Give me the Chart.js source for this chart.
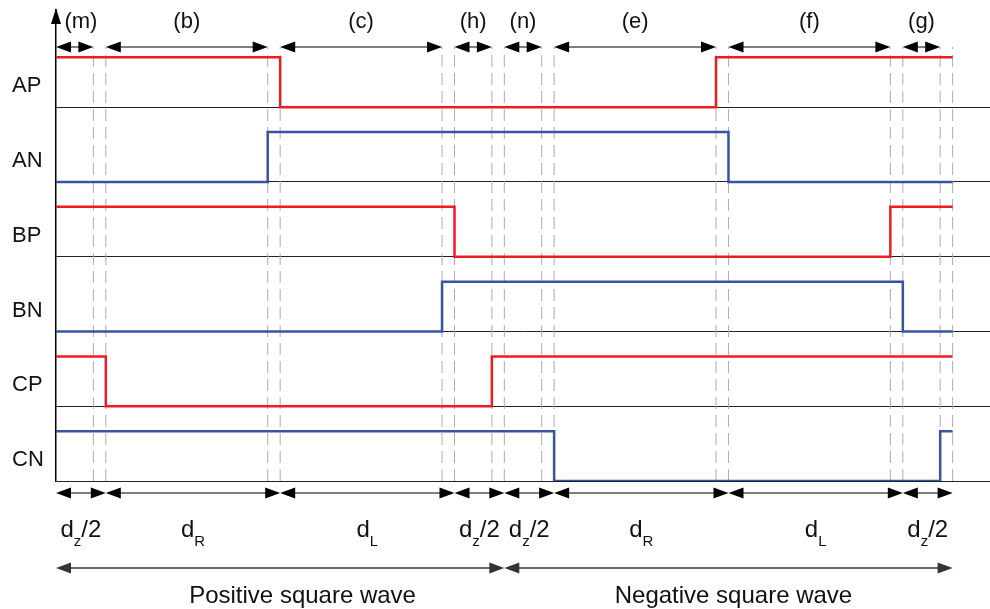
<!DOCTYPE html>
<html>
<head>
<meta charset="utf-8">
<script src="https://cdn.jsdelivr.net/npm/chart.js@4.4.0/dist/chart.umd.min.js"></script>
<style>
  html, body { margin: 0; padding: 0; background: #fff; }
  #wrap { width: 990px; height: 609px; }
</style>
</head>
<body>
<div id="wrap"><canvas id="timing" width="990" height="609"></canvas></div>
<script>
// rows, top to bottom, and the level each row sits on
const signalNames = ['AP', 'AN', 'BP', 'BN', 'CP', 'CN'];
const rowBase = [15, 12, 9, 6, 3, 0];

// switching instants (time units) and the level that starts at each one
const tAP = [0, 18, 53, 72]; const vAP = [1, 0, 1, 1];
const tAN = [0, 17, 54, 72]; const vAN = [0, 1, 0, 0];
const tBP = [0, 32, 67, 72]; const vBP = [1, 0, 1, 1];
const tBN = [0, 31, 68, 72]; const vBN = [0, 1, 0, 0];
const tCP = [0, 4, 35, 72];  const vCP = [1, 0, 1, 1];
const tCN = [0, 40, 71, 72]; const vCN = [1, 0, 1, 1];

// dashed guide lines
const guideTimes = [3, 4, 17, 18, 31, 32, 35, 36, 39, 40, 53, 54, 67, 68, 71, 72];

// interval markers above the traces
const topLabels = ['(m)', '(b)', '(c)', '(h)', '(n)', '(e)', '(f)', '(g)'];
const topFrom = [0, 4, 18, 32, 36, 40, 54, 68];
const topTo = [3, 17, 31, 35, 39, 53, 67, 71];
const topLabelAt = [2, 10.5, 24.5, 33.5, 37.5, 46.5, 60.5, 69.5];

// durations below the traces
const bottomMain = ['d', 'd', 'd', 'd', 'd', 'd', 'd', 'd'];
const bottomSub = ['z', 'R', 'L', 'z', 'z', 'R', 'L', 'z'];
const bottomTail = ['/2', '', '', '/2', '/2', '', '', '/2'];
const bottomFrom = [0, 4, 18, 32, 36, 40, 54, 68];
const bottomTo = [4, 18, 32, 36, 40, 54, 68, 72];

const waveLabels = ['Positive square wave', 'Negative square wave'];
const waveFrom = [0, 36];
const waveTo = [36, 72];
const waveLabelAt = [19.8, 54.4];

const RED = '#ed1c24';
const BLUE = '#3953a4';
const FONT = "'Liberation Sans', Arial, sans-serif";

const times = [tAP, tAN, tBP, tBN, tCP, tCN];
const levels = [vAP, vAN, vBP, vBN, vCP, vCN];

const datasets = signalNames.map((name, i) => ({
  label: name,
  data: times[i].map((t, k) => ({ x: t, y: rowBase[i] + 2 * levels[i][k] })),
  borderColor: name.endsWith('P') ? RED : BLUE,
  borderWidth: 2.5,
  stepped: true,
  pointRadius: 0,
  order: 0,
}));

const guideData = [];
guideTimes.forEach(t => {
  guideData.push({ x: t, y: 0 }, { x: t, y: 17.42 }, { x: t, y: null });
});
datasets.push({
  label: 'guides',
  data: guideData,
  borderColor: '#adadad',
  borderWidth: 1,
  borderDash: [12, 6],
  pointRadius: 0,
  spanGaps: false,
  order: 10,
});

function arrowHead(ctx, tipX, y, dir, color) {
  ctx.fillStyle = color;
  ctx.beginPath();
  ctx.moveTo(tipX, y);
  ctx.lineTo(tipX - dir * 15, y - 5.5);
  ctx.lineTo(tipX - dir * 15, y + 5.5);
  ctx.closePath();
  ctx.fill();
}

function doubleArrow(ctx, x1, x2, y, color, lw) {
  ctx.strokeStyle = color;
  ctx.lineWidth = lw;
  ctx.beginPath();
  ctx.moveTo(x1 + 4, y);
  ctx.lineTo(x2 - 4, y);
  ctx.stroke();
  arrowHead(ctx, x1, y, -1, color);
  arrowHead(ctx, x2, y, 1, color);
}

const annotate = {
  id: 'annotate',
  afterDraw(chart) {
    const { ctx, scales: { x, y } } = chart;
    const x0 = x.getPixelForValue(0);
    ctx.save();

    // arrow on the vertical axis
    ctx.fillStyle = '#000';
    ctx.beginPath();
    ctx.moveTo(x0, 8);
    ctx.lineTo(x0 - 5, 24);
    ctx.lineTo(x0 + 5, 24);
    ctx.closePath();
    ctx.fill();

    // row names
    ctx.fillStyle = '#111';
    ctx.font = '22px ' + FONT;
    ctx.textAlign = 'left';
    ctx.textBaseline = 'alphabetic';
    signalNames.forEach((name, i) => {
      ctx.fillText(name, 12, y.getPixelForValue(rowBase[i] + 1) + 10);
    });

    // top interval markers
    ctx.textAlign = 'center';
    topLabels.forEach((lab, i) => {
      doubleArrow(ctx, x.getPixelForValue(topFrom[i]), x.getPixelForValue(topTo[i]), 47, '#000', 1);
      ctx.fillStyle = '#111';
      ctx.fillText(lab, x.getPixelForValue(topLabelAt[i]), 28);
    });

    // bottom durations
    bottomMain.forEach((m, i) => {
      const a = x.getPixelForValue(bottomFrom[i]);
      const b = x.getPixelForValue(bottomTo[i]);
      doubleArrow(ctx, a, b, 493, '#000', 1);
      ctx.font = '24px ' + FONT;
      const wm = ctx.measureText(m).width;
      const wt = ctx.measureText(bottomTail[i]).width;
      ctx.font = '15px ' + FONT;
      const ws = ctx.measureText(bottomSub[i]).width;
      let px = (a + b) / 2 - (wm + ws + wt) / 2;
      ctx.fillStyle = '#111';
      ctx.textAlign = 'left';
      ctx.font = '24px ' + FONT;
      ctx.fillText(m, px, 537);
      px += wm;
      ctx.font = '15px ' + FONT;
      ctx.fillText(bottomSub[i], px, 546);
      px += ws;
      ctx.font = '24px ' + FONT;
      ctx.fillText(bottomTail[i], px, 537);
    });

    // whole-wave spans
    ctx.textAlign = 'center';
    ctx.font = '24px ' + FONT;
    waveLabels.forEach((lab, i) => {
      doubleArrow(ctx, x.getPixelForValue(waveFrom[i]), x.getPixelForValue(waveTo[i]), 568, '#333', 1.5);
      ctx.fillStyle = '#111';
      ctx.fillText(lab, x.getPixelForValue(waveLabelAt[i]), 603);
    });

    ctx.restore();
  }
};

new Chart(document.getElementById('timing'), {
  type: 'line',
  data: { datasets },
  options: {
    responsive: false,
    animation: false,
    devicePixelRatio: 1,
    layout: { padding: { left: 56, right: 0, top: 10, bottom: 128 } },
    plugins: { legend: { display: false }, tooltip: { enabled: false } },
    scales: {
      x: { type: 'linear', min: 0, max: 75, display: false },
      y: {
        type: 'linear',
        min: 0,
        max: 18.9,
        afterBuildTicks: axis => { axis.ticks = rowBase.map(v => ({ value: v })); },
        ticks: { display: false },
        grid: { drawTicks: false, color: '#222', lineWidth: 1 },
        border: { display: true, color: '#000', width: 1.5 },
      },
    },
  },
  plugins: [annotate],
});
</script>
</body>
</html>
